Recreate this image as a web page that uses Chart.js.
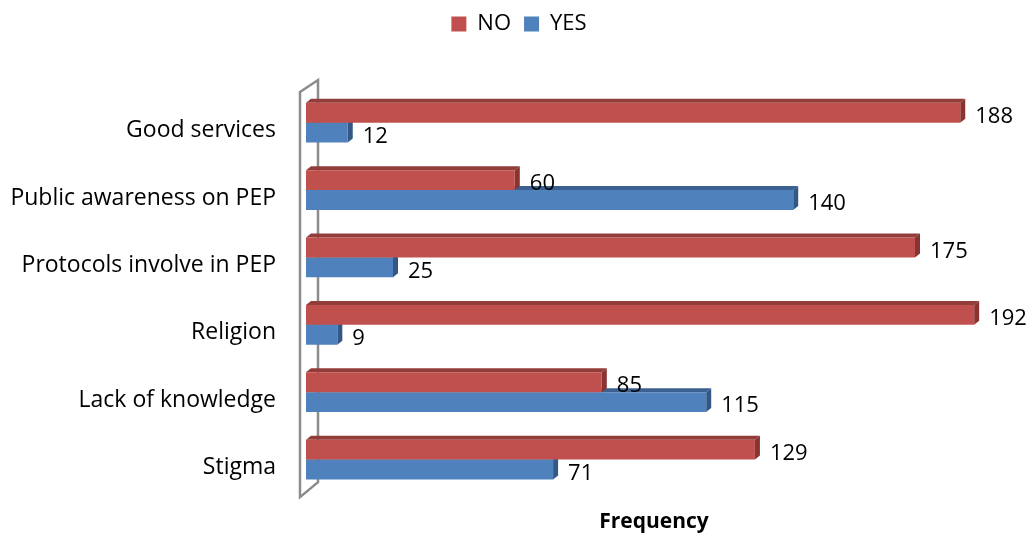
<!DOCTYPE html>
<html>
<head>
<meta charset="utf-8">
<script src="https://cdn.jsdelivr.net/npm/chart.js@4"></script>
<style>
  html, body { margin: 0; padding: 0; background: #fff; }
</style>
</head>
<body>
<canvas id="myChart" width="1032" height="537"></canvas>
<script>
const categories = ['Good services', 'Public awareness on PEP', 'Protocols involve in PEP', 'Religion', 'Lack of knowledge', 'Stigma'];
const noValues = [188, 60, 175, 192, 85, 129];
const yesValues = [12, 140, 25, 9, 115, 71];

const FONT = "'Open Sans', sans-serif";
const DX = 5, DY = 4; // depth of the fake 3d faces
const frontColors = ['#c0504d', '#4f81bd'];
const topColors = ['#923d3a', '#3b6190'];
const sideColors = ['#8a3431', '#345886'];

// legend takes the room above the plot, nudged a bit right
const legendSpace = {
  id: 'legendSpace',
  beforeInit(chart) {
    const fit = chart.legend.fit;
    chart.legend.fit = function () {
      fit.call(this);
      this.height = 89;
    };
  },
  afterLayout(chart) {
    chart.legend.left += 18;
    chart.legend.right += 18;
  }
};

const faces = {
  id: 'faces',
  beforeDatasetsDraw(chart) {
    const { ctx, chartArea: a } = chart;
    ctx.save();
    // the back wall
    ctx.strokeStyle = '#8c8c8c';
    ctx.lineWidth = 2.5;
    ctx.beginPath();
    ctx.moveTo(a.left - 6, a.top + 3);
    ctx.lineTo(a.left + 12, a.top - 9);
    ctx.lineTo(a.left + 12, a.bottom - 11);
    ctx.lineTo(a.left - 6, a.bottom + 4);
    ctx.closePath();
    ctx.stroke();

    for (let d = chart.data.datasets.length - 1; d >= 0; d--) {
      chart.getDatasetMeta(d).data.forEach(bar => {
        const top = bar.y - bar.height / 2, bottom = bar.y + bar.height / 2;
        ctx.fillStyle = topColors[d];
        ctx.beginPath();
        ctx.moveTo(bar.base, top);
        ctx.lineTo(bar.base + DX, top - DY);
        ctx.lineTo(bar.x + DX, top - DY);
        ctx.lineTo(bar.x, top);
        ctx.closePath();
        ctx.fill();
        ctx.fillStyle = sideColors[d];
        ctx.beginPath();
        ctx.moveTo(bar.x, top);
        ctx.lineTo(bar.x + DX, top - DY);
        ctx.lineTo(bar.x + DX, bottom - DY);
        ctx.lineTo(bar.x, bottom);
        ctx.closePath();
        ctx.fill();
      });
    }
    ctx.restore();
  },
  afterDatasetsDraw(chart) {
    const ctx = chart.ctx;
    ctx.save();
    ctx.font = '22px ' + FONT;
    ctx.fillStyle = '#000';
    ctx.textAlign = 'left';
    ctx.textBaseline = 'middle';
    chart.data.datasets.forEach((ds, d) => {
      chart.getDatasetMeta(d).data.forEach((bar, i) => {
        ctx.fillText(ds.data[i], bar.x + DX + 10, bar.y + 4);
      });
    });
    ctx.restore();
  }
};

new Chart(document.getElementById('myChart'), {
  type: 'bar',
  data: {
    labels: categories,
    datasets: [
      { label: 'NO', data: noValues, backgroundColor: frontColors[0], borderWidth: 0 },
      { label: 'YES', data: yesValues, backgroundColor: frontColors[1], borderWidth: 0 }
    ]
  },
  options: {
    indexAxis: 'y',
    responsive: false,
    animation: false,
    categoryPercentage: 0.59,
    barPercentage: 1,
    layout: { padding: { left: 0, right: 30, top: 0, bottom: 0 } },
    plugins: {
      legend: {
        position: 'top',
        labels: { boxWidth: 15, boxHeight: 15, padding: 13, color: '#000', font: { family: FONT, size: 22 } }
      },
      tooltip: { enabled: false }
    },
    scales: {
      x: {
        min: 0,
        max: 200,
        ticks: { display: false },
        grid: { display: false, drawTicks: false },
        border: { display: false },
        title: {
          display: true,
          text: 'Frequency',
          color: '#000',
          font: { family: FONT, size: 21, weight: 'bold' },
          padding: { top: 16, bottom: 0 }
        }
      },
      y: {
        ticks: { color: '#000', padding: 30, labelOffset: 8, font: { family: FONT, size: 23 } },
        grid: { display: false, drawTicks: false },
        border: { display: false },
        afterFit(scale) { scale.width = 306; }
      }
    }
  },
  plugins: [legendSpace, faces]
});
</script>
</body>
</html>
